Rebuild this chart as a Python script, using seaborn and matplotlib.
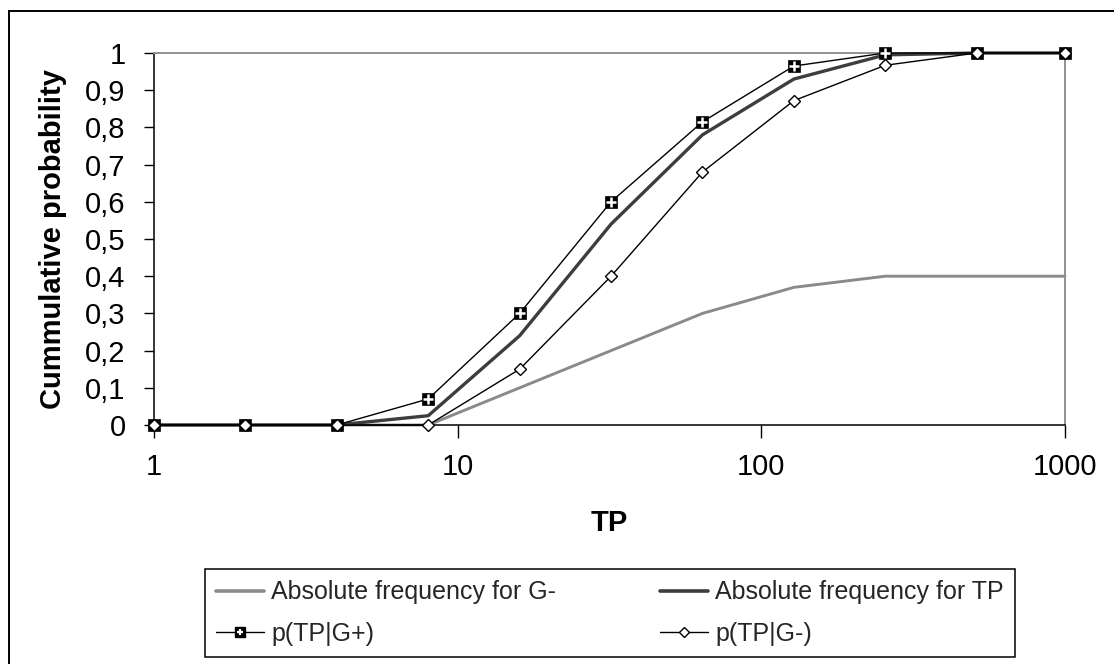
import matplotlib
matplotlib.use("Agg")
import matplotlib.pyplot as plt
from matplotlib.lines import Line2D
from matplotlib.patches import Rectangle
from matplotlib.legend_handler import HandlerTuple
import seaborn as sns

# ---- data ----
tp_values = [1, 2, 4, 8, 16, 32, 64, 128, 256, 512, 1000]
abs_freq_g_minus = [0, 0, 0, 0, 0.10, 0.20, 0.30, 0.37, 0.40, 0.40, 0.40]
abs_freq_tp = [0, 0, 0, 0.025, 0.24, 0.54, 0.78, 0.93, 0.995, 1.0, 1.0]
p_tp_g_plus = [0, 0, 0, 0.07, 0.30, 0.60, 0.815, 0.965, 1.0, 1.0, 1.0]
p_tp_g_minus = [0, 0, 0, 0.0, 0.15, 0.40, 0.68, 0.872, 0.967, 1.0, 1.0]

x_ticks = [1, 10, 100, 1000]
x_tick_labels = ["1", "10", "100", "1000"]
y_ticks = [i / 10 for i in range(11)]
y_tick_labels = ["0", "0,1", "0,2", "0,3", "0,4", "0,5", "0,6", "0,7", "0,8", "0,9", "1"]

labels = ["Absolute frequency for G-", "Absolute frequency for TP", "p(TP|G+)", "p(TP|G-)"]

sns.set_theme(style="white")
plt.rcParams["font.family"] = ["Liberation Sans", "DejaVu Sans"]
FS = 21      # axis text
LFS = 18     # legend text

W, H = 1114, 664
fig = plt.figure(figsize=(W / 100, H / 100), dpi=100)
fig.patch.set_facecolor("white")
L, R, T, B = 154, 1065, 53, 425
ax = fig.add_axes([L / W, 1 - B / H, (R - L) / W, (B - T) / H])
ax.set_facecolor("white")

GRAY = "#8a8a8a"
DARK = "#3d3d3d"

sns.lineplot(x=tp_values, y=abs_freq_g_minus, ax=ax, color=GRAY, linewidth=2.1, clip_on=False, zorder=2)
sns.lineplot(x=tp_values, y=abs_freq_tp, ax=ax, color=DARK, linewidth=2.4, clip_on=False, zorder=3)
sns.lineplot(x=tp_values, y=p_tp_g_plus, ax=ax, color="black", linewidth=1.0, marker="s",
             markersize=9.0, markerfacecolor="black", markeredgecolor="black", markeredgewidth=0.5,
             clip_on=False, zorder=4)
sns.lineplot(x=tp_values, y=p_tp_g_plus, ax=ax, color="white", linestyle="", marker="+",
             markersize=6.5, markeredgewidth=1.8, clip_on=False, zorder=5)
sns.lineplot(x=tp_values, y=p_tp_g_minus, ax=ax, color="black", linewidth=1.0, marker="D",
             markersize=5.8, markerfacecolor="white", markeredgecolor="black", markeredgewidth=1.0,
             clip_on=False, zorder=6)

ax.set_xscale("log")
ax.set_xlim(1, 1000)
ax.set_ylim(0, 1)
ax.set_xticks(x_ticks)
ax.set_xticklabels(x_tick_labels)
ax.xaxis.set_minor_locator(matplotlib.ticker.NullLocator())
ax.set_yticks(y_ticks)
ax.set_yticklabels(y_tick_labels)

ax.tick_params(axis="x", direction="out", length=9, width=1, color="black", pad=11,
               labelsize=FS, labelcolor="black", bottom=True)
ax.tick_params(axis="y", direction="out", length=7, width=1, color="black", pad=13.5,
               labelsize=FS, labelcolor="black", left=True)

for side in ["left", "bottom"]:
    ax.spines[side].set_color("black")
    ax.spines[side].set_linewidth(1.1)
for side in ["top", "right"]:
    ax.spines[side].set_color("#909090")
    ax.spines[side].set_linewidth(1.4)
ax.grid(False)

ax.set_xlabel("TP", fontsize=FS, fontweight="bold", color="black")
ax.xaxis.set_label_coords(0.5, (B - 523) / (B - T))
ax.xaxis.label.set_va("center")
ax.set_ylabel("Cummulative probability", fontsize=FS, fontweight="bold", color="black", va="center")
ax.yaxis.set_label_coords((53 - L) / (R - L), 0.5)

# legend (column-major order so that rows read: G-, TP / G+, G-)
h_gm = Line2D([], [], color=GRAY, linewidth=2.6)
h_tp = Line2D([], [], color=DARK, linewidth=2.6)
h_gp_sq = Line2D([], [], color="black", linewidth=1.0, marker="s", markersize=7.5,
                 markerfacecolor="black", markeredgecolor="black")
h_gp_pl = Line2D([], [], color="white", linestyle="", marker="+", markersize=5.0, markeredgewidth=1.6)
h_gmn = Line2D([], [], color="black", linewidth=1.0, marker="D", markersize=4.8,
               markerfacecolor="white", markeredgecolor="black")
handles = [h_gm, (h_gp_sq, h_gp_pl), h_tp, h_gmn]
leg_labels = [labels[0], labels[2], labels[1], labels[3]]
em = LFS * 100 / 72
leg = fig.legend(handles, leg_labels, ncol=2,
                 loc="upper left", bbox_to_anchor=(205 / W, 1 - 569 / H),
                 bbox_transform=fig.transFigure, borderaxespad=0,
                 fontsize=LFS, frameon=True, fancybox=False, shadow=False, framealpha=1,
                 edgecolor="black", handlelength=48 / em, handletextpad=7 / em,
                 columnspacing=104 / em, labelspacing=0.7, borderpad=0.45,
                 handler_map={tuple: HandlerTuple(ndivide=1)})
leg.get_frame().set_linewidth(1.1)

# outer chart frame (cropped at right and bottom)
fig.patches.append(Rectangle((9 / W, -0.5), 2.0, 0.5 + 1 - 11 / H, transform=fig.transFigure,
                             fill=False, edgecolor="black", linewidth=1.4, zorder=0))

fig.savefig("out.png", dpi=100)
